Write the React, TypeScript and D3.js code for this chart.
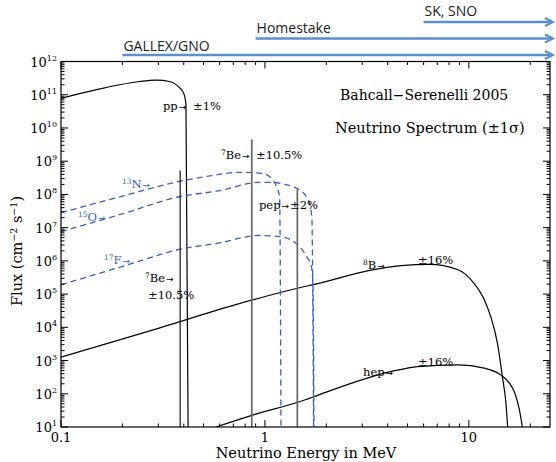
import React from "react";
import * as d3 from "d3";

const W = 556;
const H = 462;

// Axis domains
const xDomain: [number, number] = [0.1, 25];
const yDomain: [number, number] = [10, 1e12];

// pp continuum
const ppEnergy = [0.1, 0.155, 0.194, 0.243, 0.294, 0.34, 0.38, 0.4, 0.41, 0.42];
const ppFlux = [7.8e10, 1.5e11, 2.0e11, 2.5e11, 2.75e11, 2.5e11, 1.66e11, 1.1e11, 5e10, 10];

// 13N (CNO, dashed)
const n13Energy = [0.1, 0.2, 0.38, 0.55, 0.75, 0.967, 1.07, 1.14, 1.18, 1.199];
const n13Flux = [2.8e7, 8.9e7, 2.45e8, 3.7e8, 4.6e8, 4.3e8, 3.2e8, 1.7e8, 8.5e7, 10];

// 15O (CNO, dashed)
const o15Energy = [0.1, 0.2, 0.38, 0.6, 0.93, 1.085, 1.25, 1.41, 1.6, 1.67, 1.7, 1.732];
const o15Flux = [7.6e6, 2.6e7, 8.5e7, 1.3e8, 2.3e8, 2.3e8, 2.0e8, 1.6e8, 8.5e7, 4.3e7, 1.7e7, 10];

// 17F (CNO, dashed)
const f17Energy = [0.1, 0.2, 0.38, 0.6, 0.93, 1.18, 1.41, 1.6, 1.69, 1.72, 1.74];
const f17Flux = [1.9e5, 6.8e5, 2.2e6, 3.5e6, 5.8e6, 5.4e6, 3.5e6, 1.35e6, 6.8e5, 1.9e5, 10];

// 8B continuum
const b8Energy = [0.1, 0.3, 0.667, 1.41, 1.84, 3.22, 4.65, 6.4, 8.85, 10.6, 11.9, 12.8, 13.8, 14.6, 15.2, 15.5];
const b8Flux = [1.26e3, 9.3e3, 4.2e4, 1.45e5, 2.1e5, 5.1e5, 7.2e5, 7.8e5, 5.4e5, 2.1e5, 6.8e4, 2.1e4, 3.4e3, 330, 52, 10];

// hep continuum
const hepEnergy = [0.576, 0.855, 1.58, 1.84, 4.18, 5.6, 8.85, 11.9, 14.3, 15.8, 16.8, 17.7, 18.3];
const hepFlux = [10, 22, 66, 93, 470, 660, 740, 590, 370, 210, 105, 33, 10];

// Line sources (7Be 0.384, 7Be 0.862, pep 1.442)
const lineEnergy = [0.384, 0.862, 1.442];
const lineFlux = [5.2e8, 4.5e9, 1.4e8];
const lineGray = [false, true, true];

// Ticks
const xTickValues = [0.1, 1, 10];
const xTickLabels = ["0.1", "1", "10"];
const yTickExponents = [1, 2, 3, 4, 5, 6, 7, 8, 9, 10, 11, 12];

// Detector thresholds
const detectorNames = ["GALLEX/GNO", "Homestake", "SK, SNO"];
const detectorThreshold = [0.2, 0.9, 6.0];

const BLUE = "#3d5fb4";
const ARROW = "#5b8fcf";
const SERIF = "'DejaVu Serif', serif";
const SANS = "'Open Sans', sans-serif";

function zip(a: number[], b: number[]): [number, number][] {
  return a.map((v, i) => [v, b[i]] as [number, number]);
}

function Label({
  x,
  y,
  sup,
  main,
  arrow,
  fill,
}: {
  x: number;
  y: number;
  sup?: string;
  main: string;
  arrow?: boolean;
  fill?: string;
}) {
  return (
    <text x={x} y={y} fill={fill || "#000"}>
      {sup ? (
        <tspan fontSize={7.5} dy={-4.5}>
          {sup}
        </tspan>
      ) : null}
      <tspan dy={sup ? 4.5 : 0}>{main}</tspan>
      {arrow ? (
        <tspan fontFamily="'DejaVu Sans', sans-serif" fontSize={9} dx={1}>
          →
        </tspan>
      ) : null}
    </text>
  );
}

export default function App() {
  const L = 61, R = 550, T = 61.5, B = 427;
  const x = d3.scaleLog().domain(xDomain).range([L, R]);
  const y = d3.scaleLog().domain(yDomain).range([B, T]);
  const line = d3
    .line<[number, number]>()
    .x((d) => x(d[0]))
    .y((d) => y(d[1]))
    .curve(d3.curveMonotoneX);

  const xMinor: number[] = [];
  for (const dec of [0.1, 1, 10]) {
    for (let k = 2; k <= 9; k++) {
      const v = dec * k;
      if (v <= xDomain[1]) xMinor.push(v);
    }
  }
  const yMinor: number[] = [];
  for (let e = 1; e < 12; e++) {
    for (let k = 2; k <= 9; k++) yMinor.push(k * Math.pow(10, e));
  }

  const solid = [zip(ppEnergy, ppFlux), zip(b8Energy, b8Flux), zip(hepEnergy, hepFlux)];
  const dashed = [zip(n13Energy, n13Flux), zip(o15Energy, o15Flux), zip(f17Energy, f17Flux)];

  const arrowY = [55, 38.5, 22];
  const textY = [51, 33, 16];

  return (
    <svg
      width={W}
      height={H}
      style={{ position: "absolute", left: 0, top: 0, background: "#fff" }}
    >
      <defs>
        <clipPath id="plotclip">
          <rect x={L} y={T} width={R - L} height={B - T} />
        </clipPath>
      </defs>
      <rect x={0} y={0} width={W} height={H} fill="#fff" />

      {detectorNames.map((name, i) => {
        const x0 = x(detectorThreshold[i]);
        const yy = arrowY[i];
        const tip = 553;
        return (
          <g key={name}>
            <line x1={x0} x2={tip - 1} y1={yy} y2={yy} stroke={ARROW} strokeWidth={2.4} />
            <polyline
              points={`${tip - 8},${yy - 4} ${tip},${yy} ${tip - 8},${yy + 4}`}
              fill="none"
              stroke={ARROW}
              strokeWidth={2}
            />
            <text x={x0 + 1} y={textY[i]} fontFamily={SANS} fontSize={14} fill="#222">
              {name}
            </text>
          </g>
        );
      })}

      <g clipPath="url(#plotclip)">
        {solid.map((d, i) => (
          <path key={"s" + i} d={line(d) || ""} fill="none" stroke="#000" strokeWidth={1.2} />
        ))}
        {dashed.map((d, i) => (
          <path
            key={"d" + i}
            d={line(d) || ""}
            fill="none"
            stroke={BLUE}
            strokeWidth={1.3}
            strokeDasharray="6,4"
          />
        ))}
        {lineEnergy.map((e, i) => (
          <line
            key={"l" + i}
            x1={x(e)}
            x2={x(e)}
            y1={y(lineFlux[i])}
            y2={B}
            stroke={lineGray[i] ? "#666" : "#000"}
            strokeWidth={lineGray[i] ? 1.7 : 1.1}
          />
        ))}
      </g>

      <rect x={L} y={T} width={R - L} height={B - T} fill="none" stroke="#000" strokeWidth={1.2} />

      {xTickValues.map((v) => (
        <g key={"xt" + v}>
          <line x1={x(v)} x2={x(v)} y1={B} y2={B - 7} stroke="#000" />
          <line x1={x(v)} x2={x(v)} y1={T} y2={T + 7} stroke="#000" />
        </g>
      ))}
      {xMinor.map((v) => (
        <g key={"xm" + v}>
          <line x1={x(v)} x2={x(v)} y1={B} y2={B - 3.5} stroke="#000" />
          <line x1={x(v)} x2={x(v)} y1={T} y2={T + 3.5} stroke="#000" />
        </g>
      ))}
      {xTickValues.map((v, i) => (
        <text
          key={"xl" + v}
          x={x(v)}
          y={442}
          textAnchor="middle"
          fontFamily={SERIF}
          fontSize={13}
        >
          {xTickLabels[i]}
        </text>
      ))}

      {yTickExponents.map((e) => {
        const yy = y(Math.pow(10, e));
        return (
          <g key={"yt" + e}>
            <line x1={L} x2={L + 7} y1={yy} y2={yy} stroke="#000" />
            <line x1={R} x2={R - 7} y1={yy} y2={yy} stroke="#000" />
            <text x={57} y={yy + 5} textAnchor="end" fontFamily={SERIF} fontSize={13}>
              10
              <tspan fontSize={8} dy={-6}>
                {e}
              </tspan>
            </text>
          </g>
        );
      })}
      {yMinor.map((v) => (
        <g key={"ym" + v}>
          <line x1={L} x2={L + 3.5} y1={y(v)} y2={y(v)} stroke="#000" />
          <line x1={R} x2={R - 3.5} y1={y(v)} y2={y(v)} stroke="#000" />
        </g>
      ))}

      <text x={306} y={458} textAnchor="middle" fontFamily={SERIF} fontSize={14.5}>
        Neutrino Energy in MeV
      </text>
      <text
        transform="translate(22,251) rotate(-90)"
        textAnchor="middle"
        fontFamily={SERIF}
        fontSize={14.5}
      >
        Flux (cm
        <tspan fontSize={9.5} dy={-5}>−2</tspan>
        <tspan dy={5}> s</tspan>
        <tspan fontSize={9.5} dy={-5}>−1</tspan>
        <tspan dy={5}>)</tspan>
      </text>

      <text x={340} y={100} fontFamily={SERIF} fontSize={14}>
        Bahcall−Serenelli 2005
      </text>
      <text x={335} y={133} fontFamily={SERIF} fontSize={14.5}>
        Neutrino Spectrum (±1σ)
      </text>

      <g fontFamily={SERIF} fontSize={11.5}>
        <Label x={163} y={110} main="pp" arrow />
        <text x={193} y={110}>±1%</text>
        <Label x={221} y={159} sup="7" main="Be" arrow />
        <text x={256} y={159}>±10.5%</text>
        <Label x={259} y={209} main="pep" arrow />
        <text x={290} y={209}>±2%</text>
        <Label x={145} y={282} sup="7" main="Be" arrow />
        <text x={148} y={299}>±10.5%</text>
        <Label x={363} y={269} sup="8" main="B" arrow />
        <text x={418} y={264}>±16%</text>
        <Label x={363} y={376} main="hep" arrow />
        <text x={418} y={366}>±16%</text>
        <Label x={122} y={188} sup="13" main="N" arrow fill={BLUE} />
        <Label x={78} y={221} sup="15" main="O" arrow fill={BLUE} />
        <Label x={104} y={264} sup="17" main="F" arrow fill={BLUE} />
      </g>
    </svg>
  );
}
